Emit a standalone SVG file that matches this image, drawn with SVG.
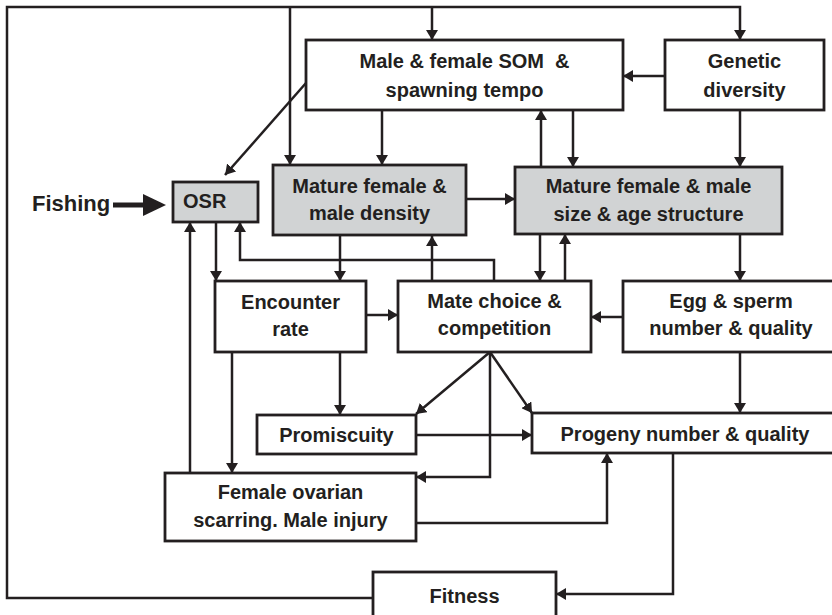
<svg xmlns="http://www.w3.org/2000/svg" width="832" height="615" viewBox="0 0 832 615">
<defs>
<marker id="ah" markerUnits="userSpaceOnUse" markerWidth="12" markerHeight="12" refX="10" refY="6" orient="auto">
<path d="M0,0 L10,6 L0,12 z" fill="#231f20"/>
</marker>
<style>
.box{fill:#fff;stroke:#231f20;stroke-width:2.8}
.gray{fill:#d1d3d4}
.t{font-family:"Liberation Sans",Arial,sans-serif;font-weight:bold;font-size:20px;fill:#231f20;text-anchor:middle}
.c{fill:none;stroke:#231f20;stroke-width:2.5}
.a{marker-end:url(#ah)}
</style>
</defs>
<rect width="832" height="615" fill="#fff"/>
<g id="connectors">
<polyline class="c" points="373,598 7,598 7,7 740,7 740,40" marker-end="url(#ah)"/>
<line class="c a" x1="290" y1="7" x2="290" y2="165"/>
<line class="c a" x1="432" y1="7" x2="432" y2="40"/>
<line class="c a" x1="665" y1="76" x2="623" y2="76"/>
<line class="c a" x1="382" y1="110" x2="382" y2="165"/>
<line class="c a" x1="306" y1="83" x2="225" y2="175"/>
<line class="c a" x1="541" y1="167" x2="541" y2="110"/>
<line class="c a" x1="573" y1="110" x2="573" y2="167"/>
<line class="c a" x1="740" y1="110" x2="740" y2="167"/>
<line class="c a" x1="466" y1="199" x2="515" y2="199"/>
<line x1="113" y1="205" x2="145" y2="205" stroke="#231f20" stroke-width="5"/>
<polygon points="143,194 166,205 143,216" fill="#231f20"/>
<line class="c a" x1="216" y1="222" x2="216" y2="281"/>
<line class="c a" x1="340" y1="236" x2="340" y2="281"/>
<polyline class="c a" points="494,281 494,260 240,260 240,222"/>
<line class="c a" x1="432" y1="281" x2="432" y2="236"/>
<line class="c a" x1="540" y1="234" x2="540" y2="281"/>
<line class="c a" x1="565" y1="281" x2="565" y2="234"/>
<line class="c a" x1="740" y1="234" x2="740" y2="281"/>
<line class="c a" x1="623" y1="317" x2="591" y2="317"/>
<line class="c a" x1="366" y1="315" x2="398" y2="315"/>
<line class="c a" x1="740" y1="352" x2="740" y2="413"/>
<line class="c a" x1="340" y1="352" x2="340" y2="415"/>
<line class="c a" x1="232" y1="352" x2="232" y2="473"/>
<line class="c a" x1="190" y1="473" x2="190" y2="222"/>
<line class="c a" x1="490" y1="352" x2="416" y2="414"/>
<polyline class="c a" points="490,352 490,477 416,477"/>
<line class="c a" x1="490" y1="352" x2="532" y2="413"/>
<line class="c a" x1="416" y1="435" x2="532" y2="435"/>
<polyline class="c a" points="416,523 607,523 607,453"/>
<polyline class="c a" points="673,453 673,594 556,594"/>
</g>
<g id="som"><rect class="box" x="306" y="40" width="317" height="70"/>
<text class="t" x="464.5" y="68" style="white-space:pre">Male &amp; female SOM  &amp;</text>
<text class="t" x="464.5" y="97">spawning tempo</text></g>
<g id="genetic"><rect class="box" x="665" y="40" width="159" height="70"/>
<text class="t" x="744.5" y="68">Genetic</text>
<text class="t" x="744.5" y="97">diversity</text></g>
<g id="fishing"><text class="t" x="32" y="211" style="text-anchor:start;font-size:22px">Fishing</text></g>
<g id="osr"><rect class="box gray" x="173" y="182" width="85" height="40"/>
<text class="t" x="183" y="208" style="text-anchor:start">OSR</text></g>
<g id="density"><rect class="box gray" x="273" y="165" width="193" height="70"/>
<text class="t" x="369.5" y="193">Mature female &amp;</text>
<text class="t" x="369.5" y="220">male density</text></g>
<g id="size"><rect class="box gray" x="515" y="167" width="267" height="67"/>
<text class="t" x="648.5" y="193">Mature female &amp; male</text>
<text class="t" x="648.5" y="221">size &amp; age structure</text></g>
<g id="encounter"><rect class="box" x="215" y="281" width="151" height="71"/>
<text class="t" x="290.5" y="309">Encounter</text>
<text class="t" x="290.5" y="336">rate</text></g>
<g id="mate"><rect class="box" x="398" y="281" width="193" height="71"/>
<text class="t" x="494.5" y="308">Mate choice &amp;</text>
<text class="t" x="494.5" y="335">competition</text></g>
<g id="egg"><rect class="box" x="623" y="281" width="216" height="71"/>
<text class="t" x="731" y="308">Egg &amp; sperm</text>
<text class="t" x="731" y="335">number &amp; quality</text></g>
<g id="promiscuity"><rect class="box" x="257" y="415" width="159" height="39"/>
<text class="t" x="336.5" y="441.5">Promiscuity</text></g>
<g id="progeny"><rect class="box" x="532" y="413" width="306" height="40"/>
<text class="t" x="685" y="441">Progeny number &amp; quality</text></g>
<g id="female"><rect class="box" x="165" y="473" width="251" height="68"/>
<text class="t" x="290.5" y="499">Female ovarian</text>
<text class="t" x="290.5" y="527">scarring. Male injury</text></g>
<g id="fitness"><rect class="box" x="373" y="572" width="183" height="50"/>
<text class="t" x="464.5" y="603">Fitness</text></g>
</svg>
